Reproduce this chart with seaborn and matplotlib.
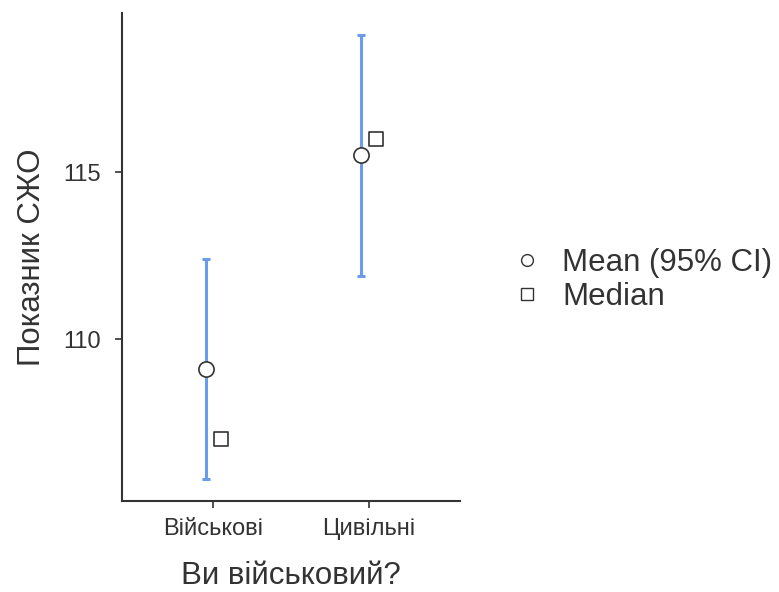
import matplotlib
matplotlib.use("Agg")
import matplotlib.pyplot as plt
from matplotlib.lines import Line2D
import seaborn as sns
import pandas as pd

# Summary statistics of the wellbeing index by group
groups = ["Військові", "Цивільні"]
means = [109.1, 115.5]
ci_low = [105.8, 111.9]
ci_high = [112.4, 119.1]
medians = [107.0, 116.0]

x_label = "Ви військовий?"
y_label = "Показник СЖО"
y_ticks = [110, 115]
legend_labels = ["Mean (95% CI)", "Median"]

sns.set_theme(style="white")
plt.rcParams["font.family"] = ["Liberation Sans", "DejaVu Sans"]

ink = "#333333"
ci_color = "#6b9bea"

fig = plt.figure(figsize=(7.79, 5.92), dpi=100)
ax = fig.add_axes([0.1566, 0.1537, 0.4340, 0.8243])

pos = list(range(len(groups)))
shift = 0.05
df = pd.DataFrame({
    "pos": pos,
    "mean": means,
    "lo": ci_low,
    "hi": ci_high,
    "median": medians,
})
df["mean_x"] = df["pos"] - shift
df["median_x"] = df["pos"] + shift

# confidence intervals
ax.errorbar(df["mean_x"], df["mean"],
            yerr=[df["mean"] - df["lo"], df["hi"] - df["mean"]],
            fmt="none", ecolor=ci_color, elinewidth=2.2, capsize=3,
            capthick=2.2, zorder=1)

sns.scatterplot(data=df, x="mean_x", y="mean", ax=ax, marker="o", s=120,
                facecolor="white", edgecolor=ink, linewidth=1.2, zorder=3,
                legend=False)
sns.scatterplot(data=df, x="median_x", y="median", ax=ax, marker="s", s=100,
                facecolor="white", edgecolor=ink, linewidth=1.2, zorder=3,
                legend=False)

ax.set_xlim(-0.59, 1.59)
ax.set_ylim(105.15, 119.76)
ax.set_xticks(pos)
ax.set_xticklabels(groups)
ax.set_yticks(y_ticks)
ax.set_yticklabels([str(t) for t in y_ticks])

ax.set_xlabel(x_label, fontsize=22.5, color=ink, labelpad=15)
ax.set_ylabel(y_label, fontsize=22.5, color=ink, labelpad=12)
ax.tick_params(axis="both", which="both", length=5, width=1.2, color=ink,
               labelcolor=ink, labelsize=17, left=True, bottom=True, pad=7)
ax.tick_params(axis="y", pad=10)

for side in ["top", "right"]:
    ax.spines[side].set_visible(False)
for side in ["left", "bottom"]:
    ax.spines[side].set_color(ink)
    ax.spines[side].set_linewidth(1.5)

handles = [
    Line2D([], [], marker="o", linestyle="none", markersize=8.5,
           markerfacecolor="white", markeredgecolor=ink, markeredgewidth=1.0),
    Line2D([], [], marker="s", linestyle="none", markersize=8,
           markerfacecolor="white", markeredgecolor=ink, markeredgewidth=1.0),
]
leg = fig.legend(handles, legend_labels, loc="center left",
                 bbox_to_anchor=(514.5 / 779, 1 - 280 / 592), frameon=False,
                 fontsize=22.5, handlelength=0.8, handletextpad=0.72,
                 labelspacing=0.15, borderpad=0, borderaxespad=0)
for t in leg.get_texts():
    t.set_color(ink)

fig.savefig("out.png", dpi=100)
